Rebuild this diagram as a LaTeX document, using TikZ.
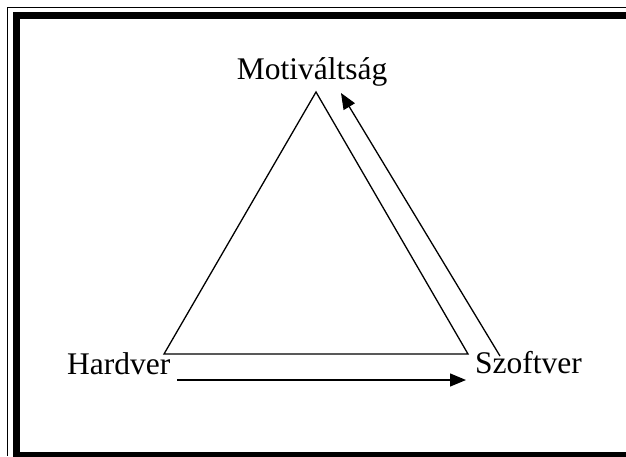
\documentclass[tikz,border=0pt]{standalone}
\usepackage{fontspec}
\setmainfont{Liberation Serif}
\usetikzlibrary{arrows.meta}
\begin{document}
\begin{tikzpicture}[x=1pt,y=-1pt,
  label/.style={font=\fontsize{31.5}{36}\selectfont, inner sep=0pt},
  edge/.style={line width=1.3pt, line join=miter},
  flow/.style={edge, -{Triangle[length=16pt,width=13pt]}}]
  \useasboundingbox (0,0) rectangle (626,456);
  \clip (0,0) rectangle (626,456);
  % thin-thick page border: only the left, top and bottom sides fall on the page
  \draw[line width=1.5pt] (626,7.5) -- (7.5,7.5) -- (7.5,456);
  \draw[line width=6.8pt] (626,15.8) -- (16.2,15.8) -- (16.2,455.2) -- (626,455.2);
  % corners of the triangle
  \coordinate (top) at (316,92);
  \coordinate (left) at (164,354);
  \coordinate (right) at (468,354);
  % labels
  \node[label, anchor=base] (mot) at (312,79) {Motiváltság};
  \node[label, anchor=base west] (hw) at (67,374) {Hardver};
  \node[label, anchor=base west] (sw) at (475,373) {Szoftver};
  % triangle
  \draw[edge] (top) -- (right) -- (left) -- cycle;
  % arrows
  \coordinate (hwstart) at (177,380);
  \coordinate (hwend) at (466,380);
  \coordinate (swstart) at (500,356);
  \coordinate (swend) at (341,93);
  \draw[flow] (hwstart) -- (hwend);
  \draw[flow] (swstart) -- (swend);
\end{tikzpicture}
\end{document}
